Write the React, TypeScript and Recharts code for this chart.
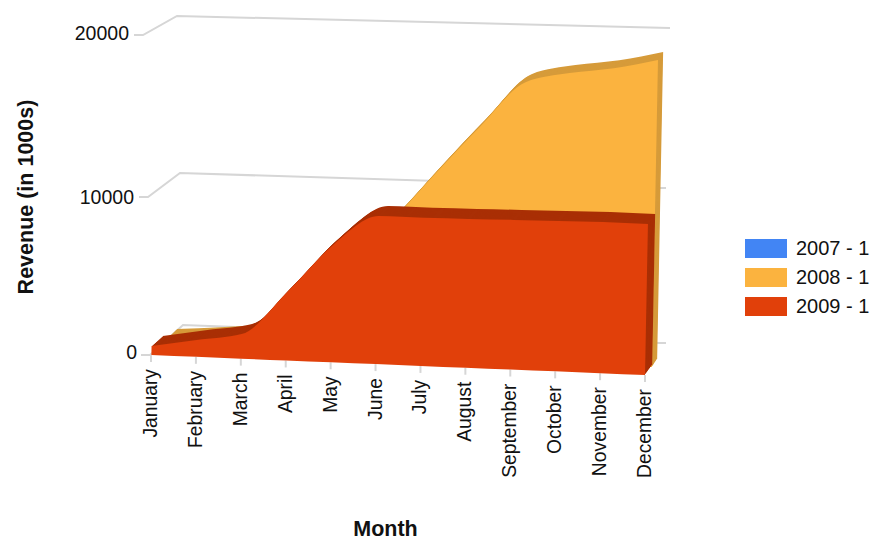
import React from "react";
import { ComposedChart, Area, XAxis, YAxis } from "recharts";

const months = ["January","February","March","April","May","June","July","August","September","October","November","December"];
const revenue2007 = [0,0,0,0,0,0,0,0,0,0,0,0];
const revenue2008 = [670,890,1200,3340,5650,8480,11670,14760,17630,18320,18740,19370];
const revenue2009 = [570,1060,1550,4320,7400,9340,9340,9390,9440,9480,9540,9530];
const yTicks = [0,10000,20000];
const seriesNames = ["2007 - 1","2008 - 1","2009 - 1"];
const seriesColors = ["#4285F4","#FBB33F","#E1400A"];
const sideColors = ["#3560B0","#D69B3A","#A92F05"];

const FONT = "'Liberation Sans', Arial, sans-serif";
const W = 876, H = 540;
const PLOT_L = 151, PLOT_R = 670, PLOT_T = 8, PLOT_B = 388;
const Y0 = 353, PX_PER = 0.01585;
const LEAN = 0.0195;
const toVal = (px: number) => (Y0 - px) / PX_PER;

const rows = months.map((m, i) => ({ month: m, i, a: revenue2007[i], b: revenue2008[i], c: revenue2009[i] }));

type Slab = { key: string; color: number; x0: number; x1: number; f0: number; f1: number; dx0: number; dx1: number; dy: number; steps: number };
const slabs: Slab[] = [
  { key: "a", color: 0, x0: 186, x1: 658, f0: 340, f1: 358, dx0: 6, dx1: 5, dy: 6, steps: 1 },
  { key: "b", color: 1, x0: 168, x1: 652, f0: 347.6, f1: 367, dx0: 8, dx1: 5, dy: 8, steps: 8 },
  { key: "c", color: 2, x0: 151, x1: 645, f0: 355, f1: 375, dx0: 11, dx1: 7, dy: 10, steps: 10 },
];

const GRID = [
  [[-1, 2], [32, -28], [509, -10], [515, -10]],
  [[-3, 2.5], [29, -21.5], [509, -6.5], [515, -6.5]],
  [[-8, -1], [26, -20], [519, -8]],
];
const Y_LABEL_RIGHT = [137, 134, 129];
const Y_LABEL_DY = [6, 9.5, 4];

const YTick = (p: any) => {
  const idx = yTicks.indexOf(p.payload.value);
  const pts = GRID[idx].map(([dx, dy]) => `${PLOT_L + dx},${p.y + dy}`);
  return (
    <g>
      <polyline points={[`${PLOT_L + GRID[idx][0][0] - 9},${p.y + GRID[idx][0][1]}`, ...pts].join(" ")} fill="none" stroke="#d6d6d6" strokeWidth={2} />
      <text x={Y_LABEL_RIGHT[idx]} y={p.y + Y_LABEL_DY[idx]} textAnchor="end" fontFamily={FONT} fontSize={19.5} fill="#111">{p.payload.value}</text>
    </g>
  );
};

const XTick = (p: any) => {
  const i = months.indexOf(p.payload.value);
  const floor = 355 + (20 * i) / 11;
  return (
    <g>
      <line x1={p.x} x2={p.x} y1={floor} y2={floor + 7} stroke="#d6d6d6" strokeWidth={2} />
      <text transform={`translate(${p.x + 6},${floor + 14}) rotate(-90)`} textAnchor="end" fontFamily={FONT} fontSize={19.3} fill="#111">{p.payload.value}</text>
    </g>
  );
};

const layers = slabs.flatMap((s) =>
  Array.from({ length: s.steps + 1 }, (_, n) => {
    const t = 1 - n / s.steps;
    const x0 = s.x0 + s.dx0 * t, x1 = s.x1 + s.dx1 * t, up = s.dy * t;
    return {
      id: `${s.key}${n}`, valueKey: s.key,
      left: x0 - PLOT_L, right: PLOT_R - x1,
      f0: s.f0 - up, f1: s.f1 - up,
      fill: n === s.steps ? seriesColors[s.color] : sideColors[s.color],
      shearAt: s.f1,
    };
  })
);

const layerStyle: React.CSSProperties = { position: "absolute", left: 0, top: 0 };

export default function App() {
  return (
    <div style={{ position: "absolute", left: 0, top: 0, width: W, height: H, background: "#fff" }}>
      <div style={layerStyle}>
        <ComposedChart width={W} height={H} data={rows} margin={{ top: PLOT_T, left: 0, right: W - PLOT_R, bottom: 0 }}>
          <YAxis yAxisId="v" width={PLOT_L} type="number" domain={[toVal(PLOT_B), toVal(PLOT_T)]} ticks={yTicks} tick={YTick} axisLine={false} tickLine={false} allowDataOverflow interval={0}
            label={{ value: "Revenue (in 1000s)", angle: -90, position: "insideLeft", dx: 20, dy: -1, style: { fontFamily: FONT, fontSize: 21.5, fontWeight: 700, fill: "#111", textAnchor: "middle" } }} />
          <XAxis xAxisId="axis" dataKey="month" scale="point" padding={{ left: 0, right: PLOT_R - 645 }} height={H - PLOT_B} tick={XTick} axisLine={false} tickLine={false} interval={0}
            label={{ value: "Month", position: "insideBottom", dy: 1, dx: -25, style: { fontFamily: FONT, fontSize: 21.5, fontWeight: 700, fill: "#111" } }} />
        </ComposedChart>
      </div>
      <div style={layerStyle}>
        <ComposedChart width={W} height={H} data={rows} margin={{ top: PLOT_T, left: PLOT_L, right: W - PLOT_R, bottom: H - PLOT_B }}>
          <YAxis yAxisId="v" hide type="number" domain={[toVal(PLOT_B), toVal(PLOT_T)]} allowDataOverflow />
          {layers.map((l) => (
            <XAxis key={l.id} xAxisId={l.id} dataKey="month" scale="point" hide padding={{ left: l.left, right: l.right }} />
          ))}
          {layers.map((l) => (
            <Area key={l.id} xAxisId={l.id} yAxisId="v" type="monotone" isAnimationActive={false} stroke="none" fill={l.fill} fillOpacity={1} dot={false} activeDot={false}
              transform={`matrix(1 0 ${-LEAN} 1 ${LEAN * l.shearAt} 0)`}
              dataKey={(r: any) => {
                const floor = toVal(l.f0 + ((l.f1 - l.f0) * r.i) / 11);
                return [floor, floor + r[l.valueKey]];
              }} name={l.id} />
          ))}
        </ComposedChart>
      </div>
      <div style={{ position: "absolute", left: 745, top: 234, fontFamily: FONT, fontSize: 20, color: "#111" }}>
        {seriesNames.map((n, i) => (
          <div key={n} style={{ display: "flex", alignItems: "center", height: 29 }}>
            <span style={{ display: "inline-block", width: 42, height: 19, background: seriesColors[i], marginRight: 9 }} />
            <span>{n}</span>
          </div>
        ))}
      </div>
    </div>
  );
}
